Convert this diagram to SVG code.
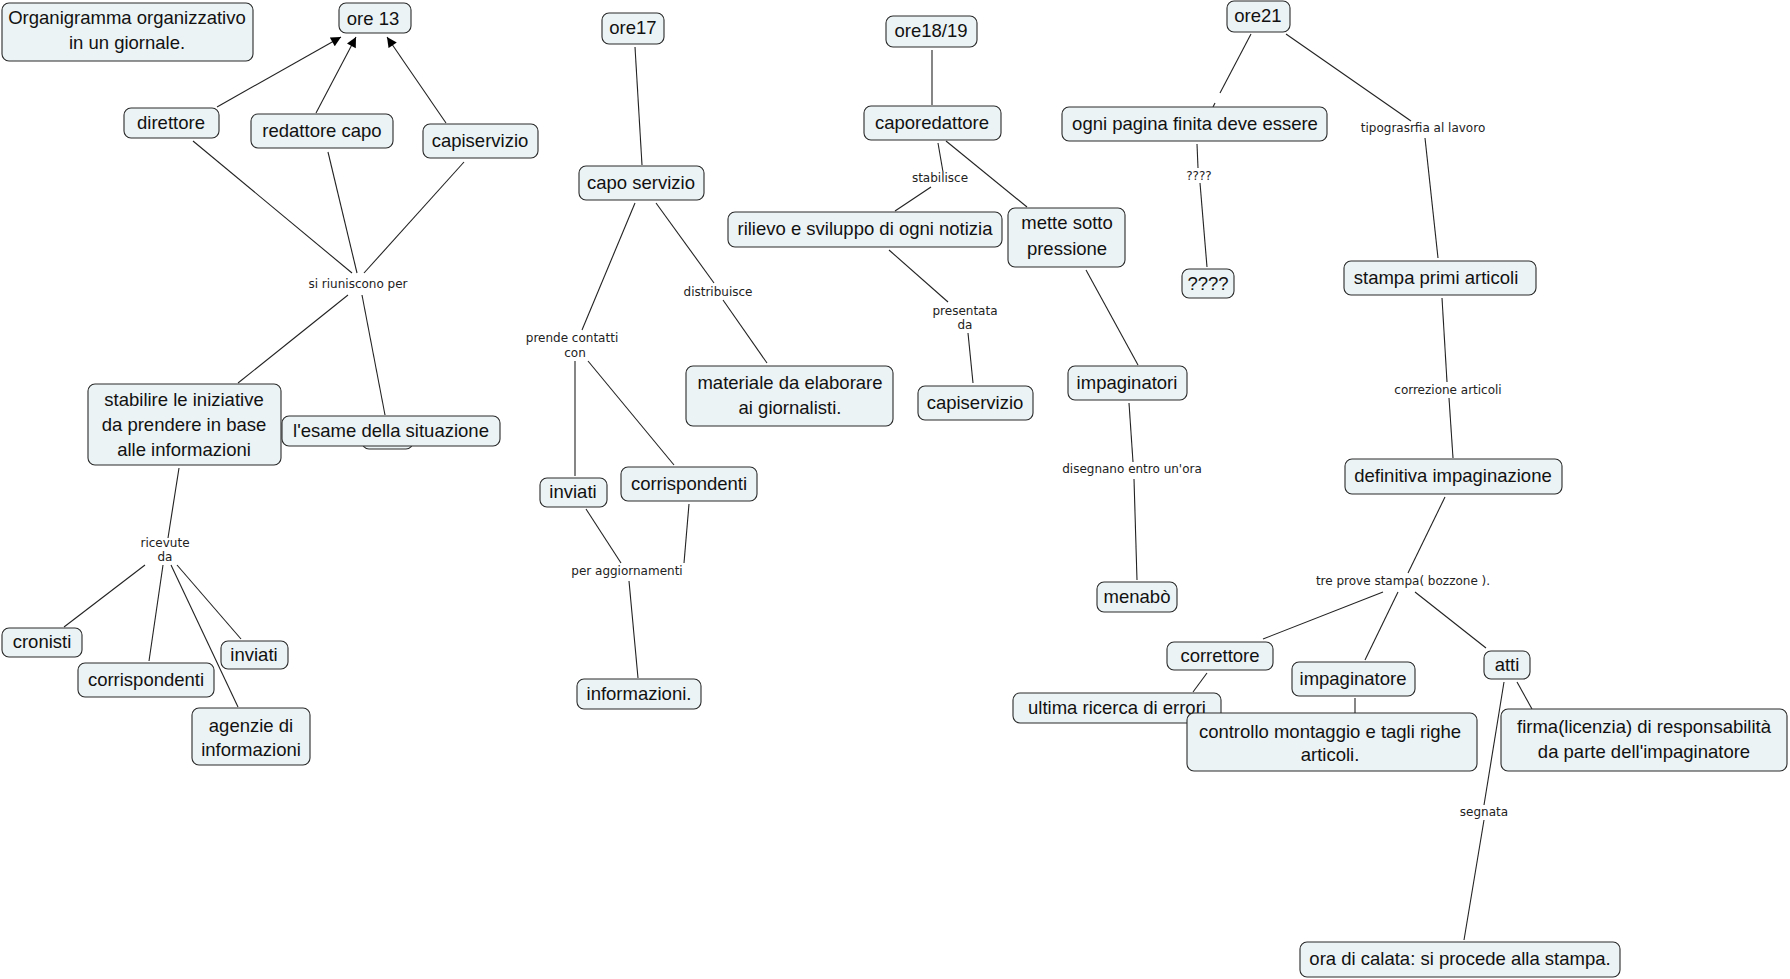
<svg xmlns="http://www.w3.org/2000/svg" width="1790" height="979" viewBox="0 0 1790 979">
<style>
.n rect{fill:#ecf3f5;stroke:#2a2a2a;stroke-width:1.1}
.n text{font-family:"Liberation Sans",Arial,sans-serif;font-size:18.5px;fill:#111;text-anchor:middle}
.c line{stroke:#222;stroke-width:1.1}
.l{font-family:"DejaVu Sans",Verdana,sans-serif;font-size:12px;fill:#222;text-anchor:middle}
</style>
<defs>
<marker id="ah" viewBox="0 0 10 10" refX="10" refY="5" markerWidth="11" markerHeight="10" markerUnits="userSpaceOnUse" orient="auto">
<path d="M0,0 L10,5 L0,10 z" fill="#000"/>
</marker>
</defs>
<rect width="1790" height="979" fill="#fff"/>
<g class="c" id="connectors">
<line x1="217" y1="107" x2="341" y2="37" marker-end="url(#ah)"/>
<line x1="316" y1="113" x2="356" y2="37" marker-end="url(#ah)"/>
<line x1="446" y1="123" x2="387" y2="37" marker-end="url(#ah)"/>
<line x1="193" y1="141" x2="352" y2="273"/>
<line x1="328" y1="152" x2="357" y2="273"/>
<line x1="464" y1="162" x2="364" y2="273"/>
<line x1="348" y1="295" x2="238" y2="383"/>
<line x1="362" y1="295" x2="385" y2="415"/>
<line x1="179" y1="468" x2="168" y2="538"/>
<line x1="145" y1="565" x2="64" y2="627"/>
<line x1="163" y1="565" x2="149" y2="661"/>
<line x1="171" y1="565" x2="238" y2="707"/>
<line x1="177" y1="565" x2="241" y2="639"/>
<line x1="635" y1="47" x2="642" y2="165"/>
<line x1="635" y1="203" x2="582" y2="330"/>
<line x1="656" y1="203" x2="714" y2="283"/>
<line x1="723" y1="300" x2="767" y2="363"/>
<line x1="575" y1="361" x2="575" y2="476"/>
<line x1="588" y1="361" x2="674" y2="465"/>
<line x1="586" y1="509" x2="621" y2="563"/>
<line x1="689" y1="504" x2="684" y2="563"/>
<line x1="629" y1="581" x2="638" y2="678"/>
<line x1="932" y1="50" x2="932" y2="105"/>
<line x1="938" y1="143" x2="943" y2="172"/>
<line x1="931" y1="187" x2="895" y2="211"/>
<line x1="946" y1="141" x2="1027" y2="207"/>
<line x1="889" y1="250" x2="948" y2="302"/>
<line x1="968" y1="333" x2="973" y2="383"/>
<line x1="1086" y1="270" x2="1138" y2="365"/>
<line x1="1129" y1="403" x2="1133" y2="462"/>
<line x1="1134" y1="479" x2="1137" y2="580"/>
<line x1="1251" y1="34" x2="1220" y2="93"/>
<line x1="1215" y1="103" x2="1213" y2="107"/>
<line x1="1286" y1="34" x2="1411" y2="121"/>
<line x1="1425" y1="138" x2="1438" y2="258"/>
<line x1="1197" y1="144" x2="1198" y2="168"/>
<line x1="1200" y1="183" x2="1207" y2="267"/>
<line x1="1442" y1="298" x2="1447" y2="382"/>
<line x1="1449" y1="398" x2="1453" y2="458"/>
<line x1="1445" y1="497" x2="1408" y2="573"/>
<line x1="1383" y1="592" x2="1263" y2="639"/>
<line x1="1398" y1="592" x2="1365" y2="660"/>
<line x1="1415" y1="592" x2="1486" y2="648"/>
<line x1="1207" y1="673" x2="1193" y2="692"/>
<line x1="1355" y1="698" x2="1355" y2="713"/>
<line x1="1517" y1="682" x2="1532" y2="709"/>
<line x1="1504" y1="682" x2="1484" y2="805"/>
<line x1="1484" y1="820" x2="1464" y2="940"/>
</g>
<g id="labels">
<text class="l" x="358" y="288">si riuniscono per</text>
<text class="l" x="165" y="547">ricevute</text>
<text class="l" x="165" y="561">da</text>
<text class="l" x="572" y="342">prende contatti</text>
<text class="l" x="575" y="357">con</text>
<text class="l" x="718" y="296">distribuisce</text>
<text class="l" x="627" y="575">per aggiornamenti</text>
<text class="l" x="940" y="182">stabilisce</text>
<text class="l" x="965" y="315">presentata</text>
<text class="l" x="965" y="329">da</text>
<text class="l" x="1132" y="473">disegnano entro un'ora</text>
<text class="l" x="1199" y="180">????</text>
<text class="l" x="1423" y="132">tipograsrfia al lavoro</text>
<text class="l" x="1448" y="394">correzione articoli</text>
<text class="l" x="1403" y="585">tre prove stampa( bozzone ).</text>
<text class="l" x="1484" y="816">segnata</text>
</g>
<g class="n" id="n-title"><rect x="2" y="3" width="251" height="58" rx="7"/><text x="127" y="24">Organigramma organizzativo</text><text x="127" y="49">in un giornale.</text></g>
<g class="n" id="n-ore13"><rect x="339" y="3" width="72" height="30" rx="7"/><text x="373" y="25">ore 13</text></g>
<g class="n" id="n-direttore"><rect x="124" y="108" width="95" height="30" rx="7"/><text x="171" y="129">direttore</text></g>
<g class="n" id="n-redattore"><rect x="251" y="114" width="142" height="34" rx="7"/><text x="322" y="137">redattore capo</text></g>
<g class="n" id="n-capiservizio1"><rect x="423" y="124" width="115" height="34" rx="7"/><text x="480" y="147">capiservizio</text></g>
<g class="n" id="n-stabilire"><rect x="88" y="384" width="193" height="81" rx="7"/><text x="184" y="406">stabilire le iniziative</text><text x="184" y="431">da prendere in base</text><text x="184" y="456">alle informazioni</text></g>
<g class="n" id="n-hidden"><rect x="362" y="418" width="51" height="31" rx="7"/></g>
<g class="n" id="n-esame"><rect x="282" y="416" width="218" height="30" rx="7"/><text x="391" y="437">l'esame della situazione</text></g>
<g class="n" id="n-cronisti"><rect x="2" y="628" width="80" height="29" rx="7"/><text x="42" y="648">cronisti</text></g>
<g class="n" id="n-corrispondenti1"><rect x="78" y="663" width="136" height="34" rx="7"/><text x="146" y="686">corrispondenti</text></g>
<g class="n" id="n-inviati1"><rect x="221" y="641" width="67" height="28" rx="7"/><text x="254" y="661">inviati</text></g>
<g class="n" id="n-agenzie"><rect x="192" y="708" width="118" height="57" rx="7"/><text x="251" y="732">agenzie di</text><text x="251" y="756">informazioni</text></g>
<g class="n" id="n-ore17"><rect x="602" y="13" width="62" height="31" rx="7"/><text x="633" y="34">ore17</text></g>
<g class="n" id="n-caposervizio"><rect x="579" y="166" width="125" height="34" rx="7"/><text x="641" y="189">capo servizio</text></g>
<g class="n" id="n-materiale"><rect x="686" y="366" width="207" height="60" rx="7"/><text x="790" y="389">materiale da elaborare</text><text x="790" y="414">ai giornalisti.</text></g>
<g class="n" id="n-inviati2"><rect x="540" y="478" width="67" height="29" rx="7"/><text x="573" y="498">inviati</text></g>
<g class="n" id="n-corrispondenti2"><rect x="621" y="467" width="136" height="34" rx="7"/><text x="689" y="490">corrispondenti</text></g>
<g class="n" id="n-informazioni"><rect x="577" y="679" width="124" height="30" rx="7"/><text x="639" y="700">informazioni.</text></g>
<g class="n" id="n-ore1819"><rect x="886" y="16" width="91" height="31" rx="7"/><text x="931" y="37">ore18/19</text></g>
<g class="n" id="n-caporedattore"><rect x="864" y="106" width="137" height="34" rx="7"/><text x="932" y="129">caporedattore</text></g>
<g class="n" id="n-rilievo"><rect x="728" y="212" width="274" height="35" rx="7"/><text x="865" y="235">rilievo e sviluppo di ogni notizia</text></g>
<g class="n" id="n-mette"><rect x="1008" y="208" width="117" height="59" rx="7"/><text x="1067" y="229">mette sotto</text><text x="1067" y="255">pressione</text></g>
<g class="n" id="n-capiservizio2"><rect x="918" y="386" width="115" height="34" rx="7"/><text x="975" y="409">capiservizio</text></g>
<g class="n" id="n-impaginatori"><rect x="1068" y="366" width="119" height="34" rx="7"/><text x="1127" y="389">impaginatori</text></g>
<g class="n" id="n-menabo"><rect x="1097" y="582" width="80" height="30" rx="7"/><text x="1137" y="603">menabò</text></g>
<g class="n" id="n-ore21"><rect x="1227" y="1" width="63" height="31" rx="7"/><text x="1258" y="22">ore21</text></g>
<g class="n" id="n-ognipagina"><rect x="1062" y="107" width="265" height="34" rx="7"/><text x="1195" y="130">ogni pagina finita deve essere</text></g>
<g class="n" id="n-qqqq"><rect x="1182" y="269" width="52" height="29" rx="7"/><text x="1208" y="290">????</text></g>
<g class="n" id="n-stampa"><rect x="1344" y="261" width="192" height="34" rx="7"/><text x="1436" y="284">stampa primi articoli</text></g>
<g class="n" id="n-definitiva"><rect x="1345" y="459" width="217" height="35" rx="7"/><text x="1453" y="482">definitiva impaginazione</text></g>
<g class="n" id="n-correttore"><rect x="1167" y="642" width="106" height="28" rx="7"/><text x="1220" y="662">correttore</text></g>
<g class="n" id="n-impaginatore"><rect x="1292" y="662" width="123" height="34" rx="7"/><text x="1353" y="685">impaginatore</text></g>
<g class="n" id="n-atti"><rect x="1484" y="651" width="46" height="28" rx="7"/><text x="1507" y="671">atti</text></g>
<g class="n" id="n-ultima"><rect x="1013" y="693" width="208" height="30" rx="7"/><text x="1117" y="714">ultima ricerca di errori</text></g>
<g class="n" id="n-controllo"><rect x="1187" y="713" width="290" height="58" rx="7"/><text x="1330" y="738">controllo montaggio e tagli righe</text><text x="1330" y="761">articoli.</text></g>
<g class="n" id="n-firma"><rect x="1501" y="709" width="286" height="62" rx="7"/><text x="1644" y="733">firma(licenzia) di responsabilità</text><text x="1644" y="758">da parte dell'impaginatore</text></g>
<g class="n" id="n-calata"><rect x="1300" y="942" width="320" height="35" rx="7"/><text x="1460" y="965">ora di calata: si procede alla stampa.</text></g>
</svg>
